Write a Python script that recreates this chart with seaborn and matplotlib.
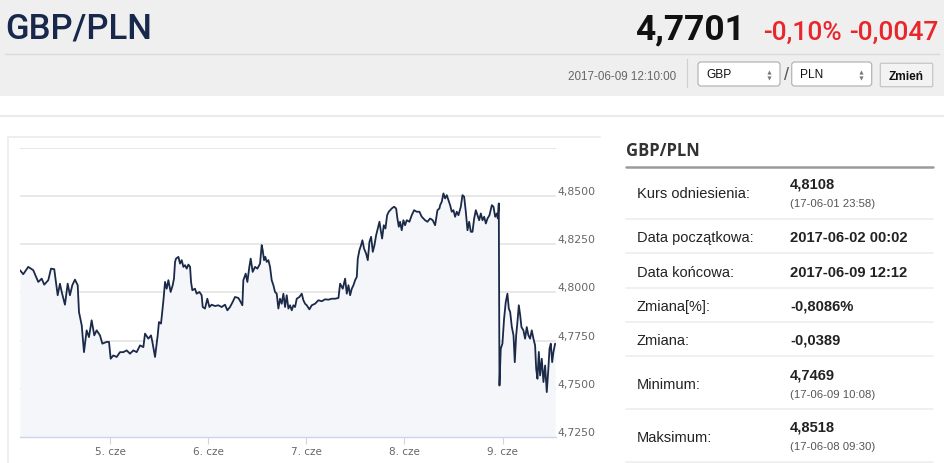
import numpy as np
import pandas as pd
import seaborn as sns
import matplotlib.pyplot as plt
from matplotlib.patches import Rectangle, FancyBboxPatch

# Notowania GBP/PLN (oś porządkowa: pozycja w dniach sesyjnych, 5 = 5. cze)
day = [4.083, 4.116, 4.167, 4.218, 4.269, 4.304, 4.330, 4.371, 4.399, 4.432,
       4.467, 4.490, 4.508, 4.541, 4.569, 4.592, 4.616, 4.643, 4.671, 4.684,
       4.712, 4.735, 4.762, 4.786, 4.813, 4.840, 4.864, 4.898, 4.922, 4.966,
       4.990, 5.007, 5.034, 5.068, 5.102, 5.136, 5.170, 5.204, 5.238, 5.272,
       5.306, 5.340, 5.357, 5.391, 5.418, 5.432, 5.459, 5.486, 5.499, 5.520,
       5.543, 5.561, 5.578, 5.595, 5.618, 5.639, 5.652, 5.663, 5.673, 5.697,
       5.714, 5.731, 5.748, 5.765, 5.782, 5.799, 5.816, 5.826, 5.839, 5.866,
       5.883, 5.911, 5.934, 5.945, 5.968, 5.992, 6.013, 6.036, 6.070, 6.104,
       6.138, 6.172, 6.196, 6.223, 6.250, 6.274, 6.308, 6.332, 6.349, 6.359,
       6.383, 6.400, 6.420, 6.434, 6.454, 6.478, 6.502, 6.529, 6.546, 6.556,
       6.570, 6.583, 6.597, 6.614, 6.631, 6.648, 6.665, 6.682, 6.699, 6.716,
       6.733, 6.750, 6.767, 6.784, 6.801, 6.818, 6.835, 6.852, 6.869, 6.886,
       6.903, 6.930, 6.954, 6.971, 6.988, 7.005, 7.032, 7.056, 7.090, 7.124,
       7.158, 7.192, 7.226, 7.260, 7.294, 7.328, 7.345, 7.372, 7.396, 7.413,
       7.430, 7.447, 7.464, 7.481, 7.498, 7.515, 7.525, 7.542, 7.559, 7.572,
       7.589, 7.610, 7.627, 7.644, 7.661, 7.678, 7.695, 7.712, 7.729, 7.746,
       7.759, 7.773, 7.790, 7.807, 7.824, 7.841, 7.871, 7.895, 7.916, 7.929,
       7.943, 7.956, 7.973, 7.990, 8.007, 8.024, 8.051, 8.075, 8.099, 8.126,
       8.153, 8.177, 8.211, 8.235, 8.262, 8.289, 8.313, 8.337, 8.357, 8.364,
       8.381, 8.398, 8.415, 8.432, 8.449, 8.466, 8.483, 8.500, 8.517, 8.534,
       8.551, 8.575, 8.592, 8.609, 8.626, 8.643, 8.660, 8.677, 8.694, 8.711,
       8.728, 8.745, 8.762, 8.779, 8.796, 8.813, 8.830, 8.847, 8.867, 8.891,
       8.908, 8.925, 8.942, 8.952, 8.962, 8.969, 8.982, 8.999, 9.016, 9.033,
       9.050, 9.064, 9.078, 9.095, 9.112, 9.125, 9.139, 9.152, 9.166, 9.180,
       9.193, 9.213, 9.230, 9.247, 9.264, 9.281, 9.298, 9.315, 9.332, 9.343,
       9.356, 9.370, 9.383, 9.400, 9.417, 9.434, 9.451, 9.465, 9.479, 9.492,
       9.506, 9.519, 9.536]
kurs = [4.8115, 4.8094, 4.8132, 4.8115, 4.8054, 4.8071, 4.8040, 4.8063, 4.8123, 4.8120,
        4.7985, 4.8045, 4.8002, 4.7936, 4.8045, 4.7985, 4.8037, 4.8066, 4.8037, 4.7898,
        4.7829, 4.7690, 4.7803, 4.7768, 4.7855, 4.7777, 4.7803, 4.7777, 4.7734, 4.7743,
        4.7743, 4.7656, 4.7673, 4.7665, 4.7690, 4.7690, 4.7699, 4.7682, 4.7699, 4.7690,
        4.7725, 4.7716, 4.7786, 4.7760, 4.7777, 4.7743, 4.7665, 4.7777, 4.7846, 4.7838,
        4.7950, 4.8054, 4.8019, 4.8063, 4.8002, 4.8037, 4.8071, 4.8158, 4.8175, 4.8184,
        4.8149, 4.8167, 4.8132, 4.8141, 4.8123, 4.8144, 4.8132, 4.8054, 4.8011, 4.8019,
        4.7993, 4.8002, 4.7985, 4.7924, 4.7916, 4.7967, 4.7924, 4.7936, 4.7929, 4.7933,
        4.7924, 4.7936, 4.7907, 4.7924, 4.7950, 4.7976, 4.7971, 4.7950, 4.7933, 4.8063,
        4.8097, 4.8054, 4.8132, 4.8175, 4.8106, 4.8132, 4.8123, 4.8149, 4.8245, 4.8219,
        4.8167, 4.8184, 4.8158, 4.8167, 4.8132, 4.8063, 4.8037, 4.8002, 4.7993, 4.7916,
        4.7967, 4.7941, 4.7993, 4.7924, 4.7985, 4.7916, 4.7933, 4.7907, 4.7933, 4.7924,
        4.7967, 4.7976, 4.7993, 4.7959, 4.7941, 4.7933, 4.7912, 4.7933, 4.7941, 4.7959,
        4.7954, 4.7964, 4.7962, 4.7967, 4.7967, 4.7971, 4.8045, 4.8019, 4.8071, 4.7993,
        4.8037, 4.7985, 4.8019, 4.8037, 4.8063, 4.8080, 4.8175, 4.8219, 4.8245, 4.8270,
        4.8227, 4.8201, 4.8167, 4.8262, 4.8288, 4.8210, 4.8245, 4.8296, 4.8331, 4.8366,
        4.8322, 4.8279, 4.8348, 4.8331, 4.8400, 4.8418, 4.8435, 4.8444, 4.8435, 4.8383,
        4.8340, 4.8366, 4.8322, 4.8374, 4.8348, 4.8374, 4.8366, 4.8400, 4.8426, 4.8418,
        4.8418, 4.8392, 4.8374, 4.8366, 4.8383, 4.8374, 4.8348, 4.8426, 4.8435, 4.8452,
        4.8470, 4.8513, 4.8487, 4.8504, 4.8478, 4.8452, 4.8418, 4.8426, 4.8392, 4.8418,
        4.8400, 4.8444, 4.8504, 4.8496, 4.8418, 4.8322, 4.8366, 4.8314, 4.8314, 4.8383,
        4.8426, 4.8400, 4.8374, 4.8409, 4.8374, 4.8392, 4.8357, 4.8383, 4.8400, 4.8452,
        4.8444, 4.8392, 4.8409, 4.8383, 4.8461, 4.7517, 4.7708, 4.7734, 4.7864, 4.7950,
        4.7993, 4.7916, 4.7898, 4.7820, 4.7777, 4.7638, 4.7777, 4.7846, 4.7933, 4.7881,
        4.7820, 4.7803, 4.7760, 4.7820, 4.7777, 4.7760, 4.7803, 4.7760, 4.7725, 4.7604,
        4.7552, 4.7691, 4.7569, 4.7656, 4.7535, 4.7621, 4.7483, 4.7587, 4.7708, 4.7734,
        4.7638, 4.7691, 4.7734]

dni = [5, 6, 7, 8, 9]
dni_etykiety = ['5. cze', '6. cze', '7. cze', '8. cze', '9. cze']
poziomy = [4.725, 4.750, 4.775, 4.800, 4.825, 4.850, 4.875]
poziomy_etykiety = ['4,7250', '4,7500', '4,7750', '4,8000', '4,8250', '4,8500', '']

para = 'GBP/PLN'
kurs_biezacy = '4,7701'
zmiana_proc = '-0,10%'
zmiana_abs = '-0,0047'
czas_notowania = '2017-06-09 12:10:00'
waluta_z = 'GBP'
waluta_na = 'PLN'
przycisk = 'Zmień'

tabela_etykiety = ['Kurs odniesienia:', 'Data początkowa:', 'Data końcowa:',
                   'Zmiana[%]:', 'Zmiana:', 'Minimum:', 'Maksimum:']
tabela_wartosci = ['4,8108', '2017-06-02 00:02', '2017-06-09 12:12',
                   '-0,8086%', '-0,0389', '4,7469', '4,8518']
tabela_daty = ['(17-06-01 23:58)', '', '', '', '', '(17-06-09 10:08)', '(17-06-08 09:30)']

sns.set_style('white')
plt.rcParams['font.family'] = ['DejaVu Sans']

W, H = 945, 464
fig = plt.figure(figsize=(W / 100, H / 100), dpi=100)

# warstwa strony (współrzędne w pikselach)
bg = fig.add_axes([0, 0, 1, 1])
bg.set_xlim(0, W)
bg.set_ylim(H, 0)
bg.axis('off')

bg.add_patch(Rectangle((0, 0), W, 96.7, color='#efefef', lw=0))
bg.plot([5, 939], [54.5, 54.5], color='#d9d9d9', lw=1)
bg.plot([0, W], [117, 117], color='#ececec', lw=1.6)
bg.plot([8.3, 8.3], [138.3, H], color='#eeeeee', lw=1.4)
bg.plot([8.3, 600], [138.3, 138.3], color='#eeeeee', lw=1.4)

bg.text(5, 38.7, para, fontsize=25, family='Roboto', weight='medium',
        color='#18284a', va='baseline')
bg.text(745, 39.5, kurs_biezacy, fontsize=25.5, family='Roboto', weight='bold',
        color='#111111', va='baseline', ha='right')
bg.text(842, 39.5, zmiana_proc, fontsize=19, family='Roboto', weight='medium',
        color='#e8262b', va='baseline', ha='right')
bg.text(938, 39.5, zmiana_abs, fontsize=19, family='Roboto', weight='medium',
        color='#e8262b', va='baseline', ha='right')

bg.text(676.5, 80.5, czas_notowania, fontsize=8.4, family='Liberation Sans',
        color='#666666', va='baseline', ha='right')
bg.plot([686.7, 686.7], [60, 88], color='#d0d0d0', lw=0.9)
for x0, x1, txt in [(698, 780, waluta_z), (791.7, 871.7, waluta_na)]:
    bg.add_patch(FancyBboxPatch((x0 + 3, 66), x1 - x0 - 6, 18,
                                boxstyle='round,pad=3', fc='white', ec='#b5b5b5', lw=0.9))
    bg.text(x0 + 8.5, 78.5, txt, fontsize=8.6, family='Liberation Sans',
            color='#111111', va='baseline')
    bg.plot([x1 - 11], [72.5], marker='^', ms=3, color='#777777', mew=0)
    bg.plot([x1 - 11], [78.5], marker='v', ms=3, color='#777777', mew=0)
bg.text(786, 76, '/', fontsize=13, family='Liberation Sans', color='#555555',
        ha='center', va='center')
bg.add_patch(FancyBboxPatch((881.5, 65.5), 50, 21, boxstyle='round,pad=1.2',
                            fc='#f3f3f3', ec='#c6c6c6', lw=0.9))
bg.text(906.5, 80, przycisk, fontsize=8.6, family='Liberation Sans', weight='bold',
        color='#111111', va='baseline', ha='center')

# panel z tabelą
bg.text(626, 150.7, para, fontsize=12, family='Open Sans', weight='bold',
        color='#333333', va='center')
bg.plot([626, 933], [167.7, 167.7], color='#9a9a9a', lw=1.8)
for ys in [220, 254.3, 289, 322.7, 357.3, 410, 462.7]:
    bg.plot([626, 933], [ys, ys], color='#eeeeee', lw=1.2)
wiersze = [(194, 185, 204), (238.3, 238.3, None), (272.7, 272.7, None),
           (306.7, 306.7, None), (340.7, 340.7, None), (385, 376, 395),
           (438.3, 427.3, 446.7)]
for (yl, yv, yd), et, wa, da in zip(wiersze, tabela_etykiety, tabela_wartosci, tabela_daty):
    bg.text(636.7, yl, et, fontsize=10.5, family='Liberation Sans',
            color='#222222', va='center')
    bg.text(790, yv, wa, fontsize=10.6, family='Liberation Sans', weight='bold',
            color='#222222', va='center')
    if da:
        bg.text(790, yd, da, fontsize=8.2, family='Liberation Sans',
                color='#555555', va='center')

# wykres
ax = fig.add_axes([20 / W, (H - 438) / H, 536 / W, (438 - 148.7) / H])
ax.set_facecolor('none')
ax.fill_between(day, kurs, 4.725, color='#f4f6f9', lw=0, zorder=1)
sns.lineplot(x=day, y=kurs, ax=ax, color='#1b2a48', lw=1.3, estimator=None,
             sort=False, zorder=3)
ax.set_xlim(4.083, 9.545)
ax.set_ylim(4.725, 4.875)
ax.set_xticks(dni)
ax.set_xticklabels(dni_etykiety)
ax.set_yticks(poziomy)
ax.set_yticklabels(poziomy_etykiety)
ax.yaxis.tick_right()
ax.yaxis.grid(True, color='#e6e6e6', lw=1.3, zorder=0)
ax.xaxis.grid(False)
for s in ['top', 'left', 'right']:
    ax.spines[s].set_visible(False)
ax.spines['bottom'].set_color('#ccd6eb')
ax.spines['bottom'].set_linewidth(1)
ax.spines['bottom'].set_zorder(4)
ax.tick_params(axis='x', length=5, width=0.8, color='#ccd6eb', pad=1.5,
               labelsize=7.5, labelcolor='#666666', direction='out', bottom=True)
ax.tick_params(axis='y', length=0, pad=1, labelsize=7.8, labelcolor='#666666')
for lbl in ax.get_yticklabels():
    lbl.set_verticalalignment('bottom')
ax.set_xlabel('')
ax.set_ylabel('')

fig.savefig('out.png', dpi=100)
